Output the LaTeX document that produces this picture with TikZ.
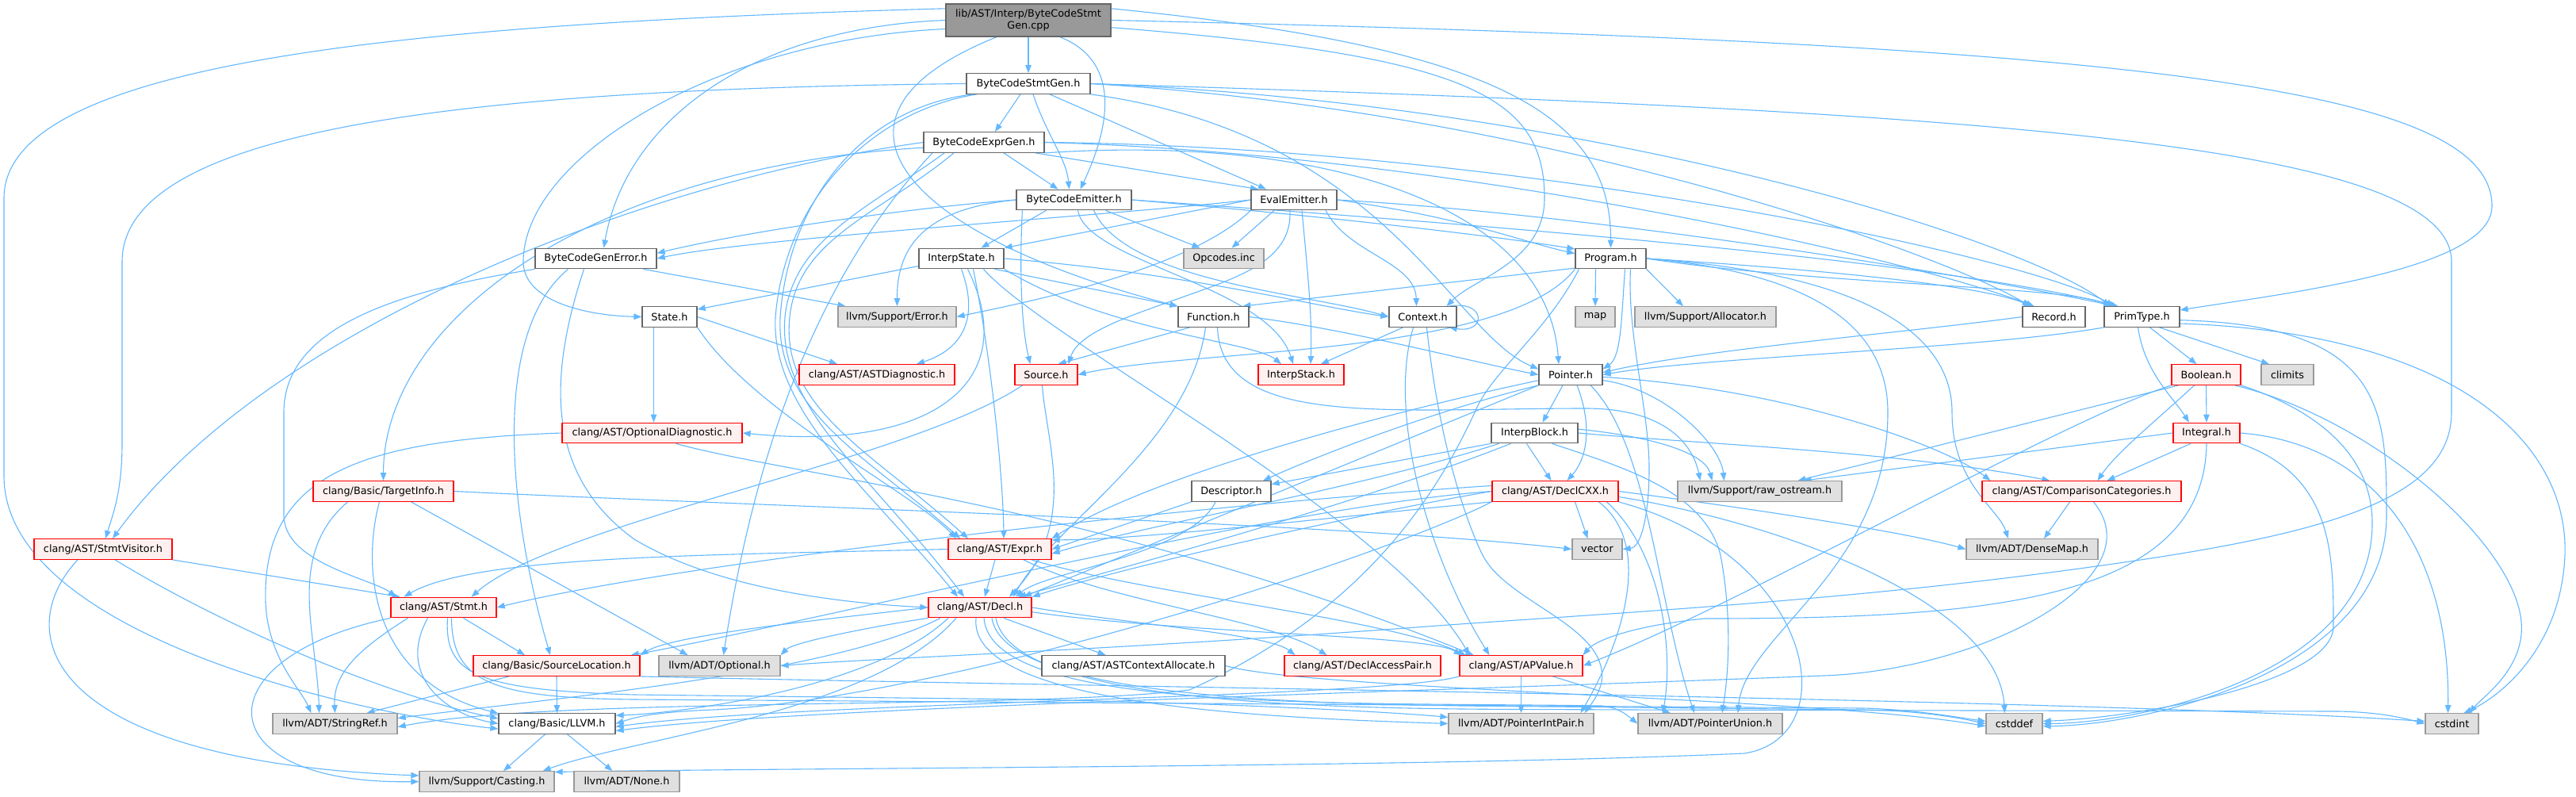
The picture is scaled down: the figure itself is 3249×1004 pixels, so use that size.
\documentclass[tikz,border=0pt]{standalone}
\usepackage{fontspec}
\setmainfont{DejaVu Sans}
\usetikzlibrary{arrows.meta}
\definecolor{cEdge}{HTML}{63B8FF}
\definecolor{cDark}{HTML}{666666}
\definecolor{cGrayB}{HTML}{999999}
\definecolor{cGrayF}{HTML}{E0E0E0}
\definecolor{cRedF}{HTML}{FFF0F0}
\definecolor{cRedB}{HTML}{FF0000}
\pgfdeclarelayer{edgelayer}
\pgfsetlayers{edgelayer,main}
\begin{document}
\begin{tikzpicture}[x=1pt,y=-1pt,
  nb/.style={inner sep=0pt, minimum height=25.5pt, line width=1.3pt, font=\fontsize{12.8pt}{15pt}\selectfont, text=black},
  wn/.style={nb, draw=cDark, fill=white},
  gn/.style={nb, draw=cGrayB, fill=cGrayF},
  rn/.style={nb, draw=cRedB, fill=cRedF},
  tn/.style={nb, draw=cDark, fill=cGrayB},
  edg/.style={draw=cEdge, line width=1.1pt, -{Triangle[length=10pt,width=7.5pt]}}]
\useasboundingbox (0,0) rectangle (3249,1004);
% ---------------- nodes
\node[tn,minimum width=208pt,minimum height=41pt,align=center] (top) at (1297,25.5) {lib/AST/Interp/ByteCodeStmt\\Gen.cpp};
\node[wn,minimum width=156pt] (sg) at (1297,105.5) {ByteCodeStmtGen.h};
\node[wn,minimum width=152pt] (eg) at (1241,179.5) {ByteCodeExprGen.h};
\node[wn,minimum width=145pt] (em) at (1354.5,252) {ByteCodeEmitter.h};
\node[wn,minimum width=108pt] (ev) at (1632,252) {EvalEmitter.h};
\node[wn,minimum width=153pt] (gerr) at (751.5,326) {ByteCodeGenError.h};
\node[wn,minimum width=107pt] (ist) at (1212.5,326) {InterpState.h};
\node[gn,minimum width=101pt] (opc) at (1543.5,326) {Opcodes.inc};
\node[wn,minimum width=89pt] (prog) at (2031.5,326) {Program.h};
\node[wn,minimum width=69pt] (state) at (844.5,399.5) {State.h};
\node[gn,minimum width=149pt] (err) at (1131.5,399.5) {llvm/Support/Error.h};
\node[wn,minimum width=89pt] (func) at (1530.5,399.5) {Function.h};
\node[wn,minimum width=85pt] (ctx) at (1794.5,399.5) {Context.h};
\node[gn,minimum width=50pt] (map) at (2012,399.5) {map};
\node[gn,minimum width=178pt] (alloc) at (2151,399.5) {llvm/Support/Allocator.h};
\node[wn,minimum width=79pt] (rec) at (2590.5,399.5) {Record.h};
\node[wn,minimum width=95pt] (prim) at (2701.5,399.5) {PrimType.h};
\node[rn,minimum width=196pt] (astd) at (1106,472.5) {clang/AST/ASTDiagnostic.h};
\node[rn,minimum width=79pt] (src) at (1319.5,472.5) {Source.h};
\node[rn,minimum width=108pt] (stack) at (1641,472.5) {InterpStack.h};
\node[wn,minimum width=80pt] (ptr) at (1981,472.5) {Pointer.h};
\node[rn,minimum width=87pt] (bool) at (2782.5,472.5) {Boolean.h};
\node[gn,minimum width=66pt] (clim) at (2885,472.5) {climits};
\node[rn,minimum width=227pt] (optd) at (822.5,546) {clang/AST/OptionalDiagnostic.h};
\node[wn,minimum width=109pt] (blk) at (1935.5,546) {InterpBlock.h};
\node[rn,minimum width=84pt] (integ) at (2783,546) {Integral.h};
\node[rn,minimum width=177pt] (tinfo) at (483.5,619.5) {clang/Basic/TargetInfo.h};
\node[wn,minimum width=100pt] (desc) at (1553,619.5) {Descriptor.h};
\node[rn,minimum width=159pt] (dcxx) at (1961.5,619.5) {clang/AST/DeclCXX.h};
\node[gn,minimum width=207pt] (raw) at (2219.5,619.5) {llvm/Support/raw\_ostream.h};
\node[rn,minimum width=251pt] (cmp) at (2625.5,619.5) {clang/AST/ComparisonCategories.h};
\node[rn,minimum width=174pt] (sv) at (130,692.5) {clang/AST/StmtVisitor.h};
\node[rn,minimum width=130pt] (expr) at (1261,692.5) {clang/AST/Expr.h};
\node[gn,minimum width=63pt] (vec) at (2014.5,692.5) {vector};
\node[gn,minimum width=166pt] (dmap) at (2563,692.5) {llvm/ADT/DenseMap.h};
\node[rn,minimum width=133pt] (stmt) at (559.5,766) {clang/AST/Stmt.h};
\node[rn,minimum width=130pt] (decl) at (1236,766) {clang/AST/Decl.h};
\node[rn,minimum width=210pt] (sloc) at (702,839.5) {clang/Basic/SourceLocation.h};
\node[gn,minimum width=153pt] (opt) at (907.5,839.5) {llvm/ADT/Optional.h};
\node[wn,minimum width=231pt] (aca) at (1429.5,839.5) {clang/AST/ASTContextAllocate.h};
\node[rn,minimum width=197pt] (dap) at (1718.5,839.5) {clang/AST/DeclAccessPair.h};
\node[rn,minimum width=155pt] (apv) at (1918.5,839.5) {clang/AST/APValue.h};
\node[gn,minimum width=157pt] (sref) at (422.5,912.5) {llvm/ADT/StringRef.h};
\node[wn,minimum width=147pt] (llvmh) at (702.5,912.5) {clang/Basic/LLVM.h};
\node[gn,minimum width=183pt] (pip) at (1918.5,912.5) {llvm/ADT/PointerIntPair.h};
\node[gn,minimum width=182pt] (pun) at (2157,912.5) {llvm/ADT/PointerUnion.h};
\node[gn,minimum width=71pt] (cdef) at (2540.5,912.5) {cstddef};
\node[gn,minimum width=67pt] (cint) at (3092.5,912.5) {cstdint};
\node[gn,minimum width=170pt] (cast) at (614,985.5) {llvm/Support/Casting.h};
\node[gn,minimum width=133pt] (none) at (790.5,985.5) {llvm/ADT/None.h};
% ---------------- edges
\begin{pgfonlayer}{edgelayer}
\fill[white] (0,0) rectangle (3249,1004);
% top
\draw[edg] (top.south) -- (sg.north);
\draw[edg] ([xshift=40pt]top.south) .. controls (1420,80) and (1395,170) .. ([xshift=8pt]em.north);
\draw[edg] (top.180) .. controls (950,35) and (790,150) .. ([xshift=10pt]gerr.north);
\draw[edg] (top.186) .. controls (900,50) and (660,200) .. (660,330) .. controls (660,380) and (740,398) .. (state.west);
\draw[edg] ([xshift=-40pt]top.south) .. controls (1000,150) and (1150,300) .. (func.north west);
\draw[edg] (top.east) .. controls (2700,55) and (3143,110) .. (3143,260) .. controls (3143,340) and (2880,370) .. (prim.10);
\draw[edg] (top.8) .. controls (1900,60) and (2032,150) .. (prog.north);
\draw[edg] (top.-5) .. controls (1850,70) and (1948,120) .. (1948,250) .. controls (1948,330) and (1860,350) .. ([xshift=30pt]ctx.north);
\draw[edg] (top.172) .. controls (500,30) and (5,80) .. (5,250) -- (5,600) .. controls (5,800) and (450,900) .. (llvmh.185);
% sg
\draw[edg] ([xshift=-10pt]sg.south) -- ([xshift=14pt]eg.north);
\draw[edg] ([xshift=6pt]sg.south) .. controls (1320,170) and (1345,200) .. ([xshift=-6pt]em.north);
\draw[edg] ([xshift=27pt]sg.south) -- ([xshift=-35pt]ev.north);
\draw[edg] (sg.west) .. controls (600,112) and (154,160) .. (154,330) -- (154,560) .. controls (154,620) and (142,650) .. ([xshift=3pt]sv.north);
\draw[edg] ([xshift=-65pt]sg.south) .. controls (1100,140) and (990,250) .. (978,400) .. controls (972,520) and (1100,620) .. ([xshift=-28pt]decl.north);
\draw[edg] ([xshift=-70pt]sg.south) .. controls (1090,135) and (995,250) .. (984,400) .. controls (978,520) and (1100,580) .. ([xshift=-50pt]expr.north);
\draw[edg] (sg.south east) .. controls (1750,170) and (1830,420) .. (ptr.170);
\draw[edg] (sg.east) .. controls (2000,130) and (2550,300) .. ([xshift=-40pt]prim.north);
\draw[edg] (sg.east) .. controls (1950,140) and (2450,320) .. ([xshift=-30pt]rec.north);
\draw[edg] (sg.east) .. controls (2500,140) and (3092,180) .. (3092,330) -- (3092,520) .. controls (3092,640) and (2900,680) .. (2600,720) .. controls (2300,760) and (2000,775) .. (1800,790) .. controls (1400,820) and (1100,830) .. (opt.east);
% eg
\draw[edg] ([xshift=25pt]eg.south) -- ([xshift=-20pt]em.north);
\draw[edg] ([xshift=65pt]eg.south) -- ([xshift=-45pt]ev.north);
\draw[edg] (eg.south east) .. controls (1650,170) and (1950,250) .. ([xshift=-15pt]ptr.north);
\draw[edg] (eg.east) .. controls (1900,185) and (2550,320) .. ([xshift=-35pt]prim.north);
\draw[edg] (eg.east) .. controls (1850,195) and (2420,330) .. ([xshift=-25pt]rec.north);
\draw[edg] ([xshift=-50pt]eg.south) .. controls (1100,260) and (1000,300) .. (990,400) .. controls (980,515) and (1100,600) .. ([xshift=-20pt]decl.north);
\draw[edg] ([xshift=-38pt]eg.south) .. controls (1110,270) and (1006,300) .. (996,400) .. controls (984,515) and (1100,570) .. ([xshift=-40pt]expr.north);
\draw[edg] (eg.west) .. controls (800,230) and (330,420) .. ([xshift=12pt]sv.north);
\draw[edg] (eg.185) .. controls (750,210) and (484,400) .. (tinfo.north);
\draw[edg] ([xshift=-65pt]eg.south) .. controls (1000,380) and (940,650) .. ([xshift=5pt]opt.north);
% em
\draw[edg] (em.west) .. controls (1150,262) and (950,290) .. (gerr.5);
\draw[edg] ([xshift=25pt]em.south) .. controls (1420,355) and (1650,370) .. (ctx.west);
\draw[edg] ([xshift=5pt]em.south) .. controls (1370,330) and (1600,360) .. ([xshift=-10pt]stack.north);
\draw[edg] ([xshift=-35pt]em.south) -- ([xshift=25pt]ist.north);
\draw[edg] (em.east) .. controls (1900,285) and (2450,330) .. ([xshift=-30pt]prim.north);
\draw[edg] (em.east) .. controls (1700,275) and (1900,300) .. (prog.165);
\draw[edg] ([xshift=8pt]em.south west) .. controls (1285,360) and (1290,420) .. ([xshift=-20pt]src.north);
\draw[edg] (em.west) .. controls (1180,262) and (1131,300) .. (err.north);
\draw[edg] ([xshift=40pt]em.south) -- ([xshift=-30pt]opc.north);
% ev
\draw[edg] (ev.west) .. controls (1400,272) and (950,300) .. (gerr.east);
\draw[edg] ([xshift=40pt]ev.south) .. controls (1700,320) and (1785,330) .. ([xshift=-8pt]ctx.north);
\draw[edg] ([xshift=10pt]ev.south) .. controls (1650,350) and (1655,400) .. ([xshift=12pt]stack.north);
\draw[edg] (ev.west) -- (ist.north east);
\draw[edg] (ev.east) .. controls (2000,270) and (2450,340) .. ([xshift=-33pt]prim.north);
\draw[edg] (ev.east) .. controls (1850,275) and (1920,305) .. (prog.172);
\draw[edg] ([xshift=-5pt]ev.south) .. controls (1630,330) and (1560,350) .. (1485,377) .. controls (1420,400) and (1360,420) .. ([xshift=28pt]src.north);
\draw[edg] (ev.south west) .. controls (1500,340) and (1300,380) .. (err.east);
\draw[edg] ([xshift=-25pt]ev.south) -- ([xshift=10pt]opc.north);
% gerr
\draw[edg] ([xshift=60pt]gerr.south) -- ([xshift=-65pt]err.north);
\draw[edg] (gerr.south west) .. controls (480,370) and (358,420) .. (358,520) -- (358,650) .. controls (358,710) and (470,730) .. ([xshift=-60pt]stmt.north);
\draw[edg] ([xshift=-35pt]gerr.south) .. controls (620,420) and (640,640) .. ([xshift=-8pt]sloc.north);
\draw[edg] ([xshift=-15pt]gerr.south) .. controls (690,480) and (690,600) .. (800,680) .. controls (900,740) and (1050,760) .. (decl.west);
% state
\draw[edg] (state.east) -- ([xshift=-50pt]astd.north);
\draw[edg] (state.south east) .. controls (950,520) and (1150,620) .. ([xshift=-55pt]expr.north);
\draw[edg] ([xshift=-20pt]state.south) -- ([xshift=2pt]optd.north);
% ist
\draw[edg] (ist.190) -- (state.15);
\draw[edg] (ist.east) .. controls (1500,345) and (1650,385) .. (ctx.west);
\draw[edg] ([xshift=42pt]ist.south) -- (func.north west);
\draw[edg] (ist.south east) .. controls (1400,420) and (1580,430) .. ([xshift=-25pt]stack.north);
\draw[edg] ([xshift=28pt]ist.south) .. controls (1320,430) and (1750,650) .. ([xshift=-65pt]apv.north);
\draw[edg] (ist.south) .. controls (1235,400) and (1215,440) .. ([xshift=50pt]astd.north);
\draw[edg] ([xshift=15pt]ist.south) .. controls (1250,450) and (1265,600) .. ([xshift=5pt]expr.north);
\draw[edg] ([xshift=8pt]ist.south) .. controls (1290,480) and (1180,570) .. (optd.east);
% ctx
\draw[edg] ([xshift=-10pt]ctx.north east) .. controls (1875,378) and (1875,421) .. ([xshift=-10pt]ctx.south east);
\draw[edg] ([xshift=-25pt]ctx.south) -- ([xshift=25pt]stack.north);
\draw[edg] ([xshift=-12pt]ctx.south) .. controls (1750,520) and (1800,700) .. ([xshift=-40pt]apv.north);
\draw[edg] ([xshift=5pt]ctx.south) .. controls (1815,560) and (1850,660) .. (1870,700) .. controls (1900,760) and (2030,790) .. (2020,860) .. controls (2015,880) and (2005,890) .. ([xshift=80pt]pip.north);
% func
\draw[edg] (func.east) .. controls (1700,415) and (1850,455) .. (ptr.west);
\draw[edg] ([xshift=-30pt]func.south) -- ([xshift=15pt]src.north);
\draw[edg] ([xshift=-10pt]func.south) .. controls (1500,560) and (1330,660) .. ([xshift=42pt]decl.north);
\draw[edg] ([xshift=5pt]func.south) .. controls (1540,540) and (1750,515) .. (2000,515) .. controls (2100,515) and (2135,560) .. ([xshift=-75pt]raw.north);
% prog
\draw[edg] ([xshift=-19pt]prog.south) -- (map.north);
\draw[edg] (prog.south east) -- ([xshift=-28pt]alloc.north);
\draw[edg] (prog.195) -- (func.20);
\draw[edg] ([xshift=18pt]prog.south) .. controls (2045,400) and (2045,450) .. (ptr.10);
\draw[edg] (prog.east) .. controls (2300,360) and (2600,360) .. ([xshift=-38pt]prim.north);
\draw[edg] (prog.east) .. controls (2300,340) and (2500,360) .. ([xshift=-28pt]rec.north);
\draw[edg] (prog.south west) .. controls (1900,450) and (1500,440) .. (src.east);
\draw[edg] (prog.east) .. controls (2350,345) and (2462,420) .. (2462,520) .. controls (2462,610) and (2520,640) .. ([xshift=-30pt]dmap.north);
\draw[edg] (prog.east) .. controls (2300,345) and (2381,420) .. (2381,520) .. controls (2381,720) and (2200,800) .. ([xshift=35pt]pun.north);
\draw[edg] ([xshift=25pt]prog.south) .. controls (2052,420) and (2080,520) .. (2080,590) .. controls (2080,650) and (2070,690) .. (vec.east);
\draw[edg] ([xshift=-40pt]prog.south) .. controls (1950,420) and (1880,470) .. (1860,520) .. controls (1800,650) and (1700,780) .. (1500,870) .. controls (1300,895) and (700,878) .. (sref.-3);
% src
\draw[edg] ([xshift=-5pt]src.south) .. controls (1320,560) and (1360,660) .. ([xshift=37pt]decl.north);
\draw[edg] ([xshift=-30pt]src.south) .. controls (1150,580) and (700,660) .. ([xshift=35pt]stmt.north);
% ptr
\draw[edg] ([xshift=-10pt]ptr.south) -- ([xshift=10pt]blk.north);
\draw[edg] ([xshift=8pt]ptr.south) .. controls (2010,540) and (2000,580) .. ([xshift=15pt]dcxx.north);
\draw[edg] (ptr.south west) .. controls (1800,520) and (1650,580) .. ([xshift=40pt]desc.north);
\draw[edg] (ptr.-4) .. controls (2250,490) and (2450,560) .. ([xshift=-115pt]cmp.north);
\draw[edg] (ptr.south west) -- ([xshift=55pt]decl.north);
\draw[edg] (ptr.190) .. controls (1750,520) and (1450,600) .. (expr.north east);
\draw[edg] ([xshift=25pt]ptr.south) .. controls (2080,560) and (2090,760) .. ([xshift=-20pt]pun.north);
\draw[edg] (ptr.-10) .. controls (2100,490) and (2170,560) .. ([xshift=-45pt]raw.north);
% blk
\draw[edg] (blk.south west) -- (desc.10);
\draw[edg] ([xshift=-10pt]blk.south) -- ([xshift=-5pt]dcxx.north);
\draw[edg] ([xshift=-30pt]blk.south) .. controls (1700,640) and (1400,720) .. ([xshift=48pt]decl.north);
\draw[edg] ([xshift=-45pt]blk.south) .. controls (1700,620) and (1450,660) .. (expr.-5);
\draw[edg] (blk.east) .. controls (2150,560) and (2400,570) .. ([xshift=-40pt]cmp.north);
\draw[edg] ([xshift=22pt]blk.south) .. controls (2050,590) and (2150,620) .. (2170,700) .. controls (2185,780) and (2180,850) .. ([xshift=15pt]pun.north);
\draw[edg] (blk.5) .. controls (2080,550) and (2150,570) .. ([xshift=-60pt]raw.north);
% desc
\draw[edg] ([xshift=-20pt]desc.south) .. controls (1500,700) and (1320,720) .. ([xshift=45pt]decl.north);
\draw[edg] (desc.south west) -- (expr.east);
% dcxx
\draw[edg] (dcxx.west) .. controls (1700,650) and (1400,720) .. (decl.north east);
\draw[edg] (dcxx.south west) .. controls (1700,650) and (1450,680) .. (expr.10);
\draw[edg] ([xshift=25pt]dcxx.south) -- ([xshift=-12pt]vec.north);
\draw[edg] (dcxx.east) .. controls (2200,640) and (2400,670) .. (dmap.west);
\draw[edg] ([xshift=55pt]dcxx.south) .. controls (2090,690) and (2040,820) .. ([xshift=75pt]pip.north);
\draw[edg] ([xshift=65pt]dcxx.south) .. controls (2100,700) and (2110,830) .. ([xshift=-60pt]pun.north);
\draw[edg] (dcxx.-5) .. controls (2250,660) and (2520,760) .. ([xshift=-12pt]cdef.north);
\draw[edg] (dcxx.south west) .. controls (1750,700) and (1200,880) .. (900,895) .. controls (820,898) and (800,905) .. (llvmh.east);
\draw[edg] (dcxx.south east) .. controls (2290,700) and (2330,930) .. (2200,950) .. controls (1800,968) and (1000,968) .. (cast.8);
\draw[edg] (dcxx.west) .. controls (1600,640) and (1000,790) .. ([xshift=-12pt]sloc.north east);
\draw[edg] (dcxx.175) .. controls (1600,630) and (900,700) .. (stmt.east);
% expr
\draw[edg] ([xshift=-6pt]expr.south) -- ([xshift=6pt]decl.north);
\draw[edg] (expr.west) .. controls (900,700) and (600,700) .. ([xshift=-50pt]stmt.north);
\draw[edg] ([xshift=40pt]expr.south) .. controls (1450,750) and (1750,780) .. ([xshift=-70pt]apv.north);
\draw[edg] ([xshift=30pt]expr.south) .. controls (1400,760) and (1600,780) .. ([xshift=-45pt]dap.north);
% decl
\draw[edg] ([xshift=30pt]decl.south) -- ([xshift=-35pt]aca.north);
\draw[edg] (decl.east) .. controls (1450,790) and (1600,800) .. ([xshift=-85pt]dap.north);
\draw[edg] (decl.-5) .. controls (1500,800) and (1800,800) .. ([xshift=-75pt]apv.north);
\draw[edg] (decl.west) .. controls (1050,780) and (850,800) .. (sloc.north east);
\draw[edg] (decl.south west) .. controls (1100,790) and (1000,810) .. (opt.north east);
\draw[edg] ([xshift=-40pt]decl.south) .. controls (1100,870) and (850,900) .. (llvmh.8);
\draw[edg] ([xshift=-50pt]decl.south) .. controls (1050,850) and (700,880) .. (sref.5);
\draw[edg] ([xshift=-30pt]decl.south) .. controls (1100,900) and (800,930) .. ([xshift=-15pt]cast.north east);
\draw[edg] ([xshift=-5pt]decl.south) .. controls (1220,890) and (1600,905) .. (pip.west);
\draw[edg] ([xshift=5pt]decl.south) .. controls (1250,900) and (1700,885) .. (2020,890) .. controls (2040,892) and (2050,900) .. (pun.west);
\draw[edg] ([xshift=15pt]decl.south) .. controls (1270,900) and (1800,888) .. (2050,892) -- (2350,895) .. controls (2420,896) and (2470,905) .. (cdef.west);
\draw[edg] ([xshift=20pt]decl.south) .. controls (1280,905) and (1800,893) .. (2050,895) -- (2950,897) .. controls (3000,898) and (3030,905) .. (cint.west);
% stmt
\draw[edg] ([xshift=25pt]stmt.south) -- ([xshift=-40pt]sloc.north);
\draw[edg] ([xshift=-45pt]stmt.south) .. controls (450,820) and (420,850) .. (sref.north);
\draw[edg] ([xshift=-20pt]stmt.south) .. controls (500,850) and (560,900) .. (llvmh.180);
\draw[edg] (stmt.south west) .. controls (250,830) and (260,990) .. (cast.west);
\draw[edg] ([xshift=5pt]stmt.south) .. controls (560,850) and (600,870) .. (800,876) -- (1300,882) .. controls (1600,888) and (1780,900) .. (pip.175);
\draw[edg] ([xshift=10pt]stmt.south) .. controls (570,860) and (620,880) .. (800,882) -- (2350,893) .. controls (2420,895) and (2470,905) .. (cdef.175);
% sloc
\draw[edg] ([xshift=-60pt]sloc.south) -- ([xshift=40pt]sref.north);
\draw[edg] (sloc.south) -- (llvmh.north);
\draw[edg] (sloc.south east) .. controls (1300,865) and (2600,880) .. (cint.175);
% apv
\draw[edg] (apv.south) -- (pip.north);
\draw[edg] ([xshift=40pt]apv.south) -- ([xshift=-50pt]pun.north);
\draw[edg] (apv.south west) .. controls (1750,880) and (1000,885) .. (llvmh.-3);
% cmp
\draw[edg] ([xshift=-15pt]cmp.south) -- ([xshift=15pt]dmap.north);
\draw[edg] ([xshift=15pt]cmp.south) .. controls (2720,730) and (2500,845) .. (2300,852) .. controls (1800,872) and (1000,892) .. (llvmh.-7);
% aca
\draw[edg] (aca.east) .. controls (1650,870) and (2300,880) .. (cdef.185);
% llvmh
\draw[edg] ([xshift=-15pt]llvmh.south) -- ([xshift=21pt]cast.north);
\draw[edg] ([xshift=13pt]llvmh.south) -- ([xshift=-18pt]none.north);
% sv
\draw[edg] (sv.south east) -- ([xshift=-55pt]stmt.north);
\draw[edg] ([xshift=15pt]sv.south) .. controls (300,800) and (500,880) .. (llvmh.175);
\draw[edg] ([xshift=-32pt]sv.south) .. controls (10,800) and (60,960) .. (cast.175);
% tinfo
\draw[edg] ([xshift=-45pt]tinfo.south) .. controls (360,700) and (400,800) .. ([xshift=-20pt]sref.north);
\draw[edg] ([xshift=-5pt]tinfo.south) .. controls (455,720) and (470,860) .. (llvmh.170);
\draw[edg] ([xshift=35pt]tinfo.south) -- ([xshift=-40pt]opt.north);
\draw[edg] (tinfo.east) .. controls (1000,640) and (1700,660) .. (vec.west);
% optd
\draw[edg] (optd.west) .. controls (450,555) and (330,600) .. (335,760) .. controls (338,830) and (380,870) .. ([xshift=-30pt]sref.north);
\draw[edg] ([xshift=30pt]optd.south) .. controls (1000,600) and (1400,640) .. ([xshift=-60pt]apv.north);
% bool
\draw[edg] (bool.south) -- (integ.north);
\draw[edg] ([xshift=-15pt]bool.south) .. controls (2720,530) and (2670,570) .. ([xshift=20pt]cmp.north);
\draw[edg] (bool.south west) .. controls (2600,530) and (2200,760) .. (apv.east);
\draw[edg] ([xshift=-35pt]bool.south) -- ([xshift=48pt]raw.north);
\draw[edg] (bool.south east) .. controls (2900,510) and (2992,560) .. (2992,660) .. controls (2992,850) and (2700,912) .. (cdef.east);
\draw[edg] ([xshift=-8pt]bool.south east) .. controls (3000,530) and (3190,700) .. (3180,800) .. controls (3175,850) and (3130,880) .. ([xshift=22pt]cint.north);
% integ
\draw[edg] ([xshift=-20pt]integ.south) -- ([xshift=32pt]cmp.north);
\draw[edg] (integ.west) -- ([xshift=55pt]raw.north);
\draw[edg] (integ.south) .. controls (2780,760) and (2500,780) .. (2150,780) .. controls (2050,790) and (2010,810) .. (apv.north east);
\draw[edg] (integ.south east) .. controls (2943,600) and (2943,700) .. (2943,790) .. controls (2943,860) and (2700,905) .. (cdef.5);
\draw[edg] (integ.east) .. controls (3000,560) and (3090,700) .. ([xshift=-5pt]cint.north);
% prim
\draw[edg] ([xshift=22pt]prim.south) -- ([xshift=-23pt]clim.north);
\draw[edg] ([xshift=10pt]prim.south) -- ([xshift=-12pt]bool.north);
\draw[edg] ([xshift=-5pt]prim.south) .. controls (2705,470) and (2740,500) .. ([xshift=-22pt]integ.north);
\draw[edg] (prim.south west) .. controls (2500,440) and (2150,450) .. (ptr.east);
\draw[edg] (prim.-5) .. controls (3010,410) and (3010,520) .. (3010,650) .. controls (3010,850) and (2700,915) .. (cdef.-5);
\draw[edg] (prim.-10) .. controls (3100,420) and (3240,560) .. (3235,700) .. controls (3230,820) and (3150,880) .. ([xshift=15pt]cint.north);
% rec
\draw[edg] (rec.west) .. controls (2400,420) and (2150,440) .. (ptr.4);
\end{pgfonlayer}
\end{tikzpicture}
\end{document}
